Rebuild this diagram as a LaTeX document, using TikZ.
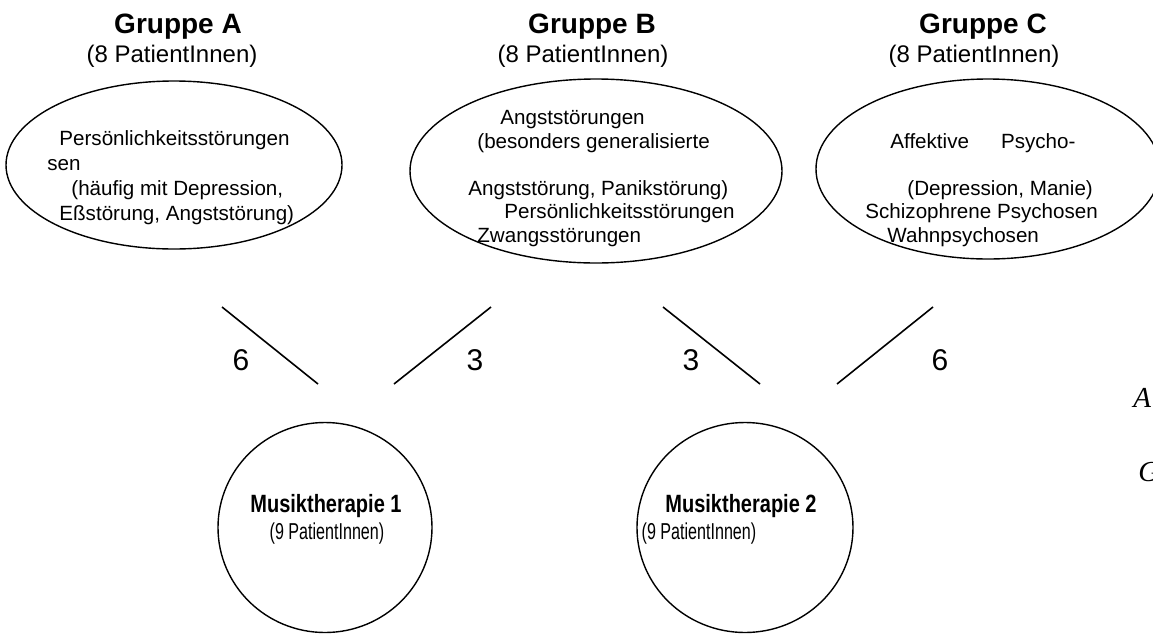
\documentclass[tikz,border=0pt]{standalone}
\usepackage{fontspec}
\setmainfont{Liberation Sans}
\newfontfamily\narrowfont[FakeStretch=0.8]{Liberation Sans}
\newfontfamily\narrowerfont[FakeStretch=0.7]{Liberation Sans}
\newfontfamily\serifface{Liberation Serif}
\usetikzlibrary{positioning,shapes.geometric}
\tikzset{line/.style={draw, line width=0.8pt}}

\begin{document}
\begin{tikzpicture}[x=0.5pt, y=-0.5pt, node distance=2.5pt]
\tikzstyle{group} = [ellipse, draw, line width=0.7pt, inner sep=0pt]
\tikzstyle{title} = [font=\fontsize{14}{16}\selectfont\bfseries, inner sep=0pt, anchor=base]
\tikzstyle{count} = [font=\fontsize{12}{14}\selectfont, inner sep=0pt]
\tikzstyle{diag} = [font=\fontsize{10.3}{11.75}\selectfont, align=left, inner sep=0pt, anchor=base west]
\tikzstyle{therapy} = [font=\narrowfont\fontsize{12.5}{14}\selectfont\bfseries, inner sep=0pt, anchor=base]
\tikzstyle{tcount} = [font=\narrowerfont\fontsize{11.5}{14}\selectfont, inner sep=0pt]
\tikzstyle{weight} = [font=\fontsize{15}{17}\selectfont, inner sep=0pt]
\tikzstyle{frag} = [font=\serifface\itshape\fontsize{14.5}{17}\selectfont, inner sep=0pt, anchor=base west]

\useasboundingbox (0,0) rectangle (1153,633);
\clip (0,0) rectangle (1153,633);

% Gruppen
\node [title] (grpA) at (178,33) {Gruppe A};
\node [count, below=of grpA, xshift=-3pt] (cntA) {(8 PatientInnen)};
\node [title] (grpB) at (592,33) {Gruppe B};
\node [count, below=of grpB, xshift=-4.5pt] (cntB) {(8 PatientInnen)};
\node [title] (grpC) at (983,33) {Gruppe C};
\node [count, below=of grpC, xshift=-4.5pt] (cntC) {(8 PatientInnen)};

\node [group, minimum width=168pt, minimum height=84pt] (ellA) at (174,165) {};
\node [group, minimum width=186pt, minimum height=92pt] (ellB) at (596,171) {};
\node [group, minimum width=172pt, minimum height=90pt] (ellC) at (988,169) {};

\node [diag, font=\fontsize{10.3}{12.5}\selectfont] (diagA) at (47,220) {\hspace*{6pt}Persönlichkeitsstörungen\\sen\\\hspace*{12pt}(häufig mit Depression,\\\hspace*{6pt}Eßstörung, Angststörung)};
\node [diag] (diagB) at (468,242) {\hspace*{16pt}Angststörungen\\\hspace*{4.5pt}(besonders generalisierte\\[11.75pt]Angststörung, Panikstörung)\\\hspace*{18pt}Persönlichkeitsstörungen\\\hspace*{4.5pt}Zwangsstörungen};
\node [diag] (diagC) at (865,242) {\hspace*{12.5pt}Affektive\hspace{16pt}Psycho-\\[11.75pt]\hspace*{21pt}(Depression, Manie)\\Schizophrene Psychosen\\\hspace*{11pt}Wahnpsychosen};

% Musiktherapie
\node [group, minimum width=107pt, minimum height=105pt] (mt1) at (325,527.5) {};
\node [group, minimum width=108pt, minimum height=105pt] (mt2) at (745,527.5) {};
\node [therapy] (mt1t) at (326,512) {Musiktherapie 1};
\node [tcount, below=of mt1t, xshift=0.5pt] (mt1c) {(9 PatientInnen)};
\node [therapy] (mt2t) at (741,512) {Musiktherapie 2};
\node [tcount, below=of mt2t, xshift=-21pt] (mt2c) {(9 PatientInnen)};

% Zuordnungen
\coordinate (aTop) at (222,307);
\coordinate (aBot) at (318,384);
\coordinate (bTop1) at (491,307);
\coordinate (bBot1) at (394,384);
\coordinate (bTop2) at (663,307);
\coordinate (bBot2) at (760,384);
\coordinate (cTop) at (933,307);
\coordinate (cBot) at (837,384);
\path [line] (aTop) -- (aBot);
\path [line] (bTop1) -- (bBot1);
\path [line] (bTop2) -- (bBot2);
\path [line] (cTop) -- (cBot);
\node [weight] (wA) at (241,360) {6};
\node [weight] (wB1) at (475,360) {3};
\node [weight] (wB2) at (691,360) {3};
\node [weight] (wC) at (940,360) {6};

\node [frag] (fragA) at (1133,407) {A};
\node [frag] (fragG) at (1138,481) {G};
\end{tikzpicture}
\end{document}
